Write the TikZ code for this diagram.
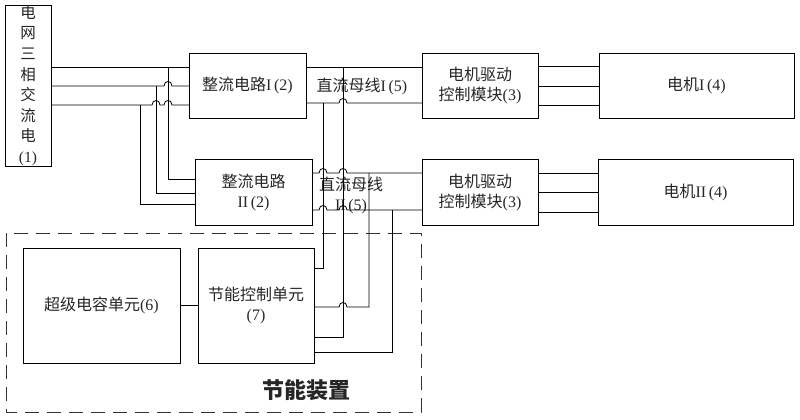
\documentclass[tikz,border=0pt]{standalone}
\usepackage{fontspec}
\setmainfont{Liberation Serif}
\newfontfamily\cjk{Noto Sans CJK SC}
\newcommand{\zh}[1]{{\cjk #1}}
% small bridge where a horizontal wire passes over a vertical one
\newcommand{\hop}[2]{-- ({#1-4},#2) .. controls ({#1-4},{#2-6}) and ({#1+4},{#2-6}) .. ({#1+4},#2)}
\tikzset{
  blk/.style={draw,line width=0.9pt,inner sep=0pt,align=center,text=black!85},
  lbl/.style={inner sep=0pt,align=center,text=black!85},
}

\begin{document}
\begin{tikzpicture}[x=1pt,y=-1pt,line width=0.8pt,font=\fontsize{16}{20}\selectfont]
			\useasboundingbox (0,0) rectangle (800,420);

			\node[blk,minimum width=46pt,minimum height=161pt,font=\fontsize{15.5}{20.6}\selectfont] (grid) at (28,85.5) {\zh{电}\\\zh{网}\\\zh{三}\\\zh{相}\\\zh{交}\\\zh{流}\\\zh{电}\\(1)};
			\node[blk,minimum width=117pt,minimum height=65pt] (rectI) at (247.5,85.5) {\zh{整流电路}I\,(2)};
			\node[blk,minimum width=117pt,minimum height=66pt] (rectII) at (253.5,192) {\zh{整流电路}\\II\,(2)};
			\node[blk,minimum width=116pt,minimum height=65pt] (drvI) at (480,85.5) {\zh{电机驱动}\\\zh{控制模块}(3)};
			\node[blk,minimum width=116pt,minimum height=66pt] (drvII) at (480,192) {\zh{电机驱动}\\\zh{控制模块}(3)};
			\node[blk,minimum width=195pt,minimum height=65pt] (motI) at (696.5,85.5) {\zh{电机}I\,(4)};
			\node[blk,minimum width=195pt,minimum height=66pt] (motII) at (695.5,192) {\zh{电机}II\,(4)};
			\node[blk,minimum width=157pt,minimum height=115pt] (cap) at (101.5,305.5) {\zh{超级电容单元}(6)};
			\node[blk,minimum width=116pt,minimum height=115pt] (ctrl) at (256,305.5) {\zh{节能控制单元}\\(7)};

			\node[lbl] (busI) at (362,86) {\zh{直流母线}I\,(5)};
			\node[lbl] (busII) at (351,195) {\zh{直流母线}\\II\,(5)};

			\draw[dash pattern=on 14pt off 8pt,line width=0.9pt,black!80] (6,233) rectangle (421,412);
			\node[lbl,font=\fontsize{22}{24}\selectfont\bfseries] (saver) at (306,390) {\zh{节能装置}};

			% three phase input
			\draw (51,67) -- (189,67);
			\draw (51,86) \hop{168}{86} -- (189,86);
			\draw (51,105) \hop{156}{105} \hop{168}{105} -- (189,105);
			\draw (168,67) -- (168,179) -- (195,179);
			\draw (156,86) -- (156,193) -- (195,193);
			\draw (140,105) -- (140,204) -- (195,204);

			% dc buses
			\draw (306,67) -- (422,67);
			\draw (306,103) \hop{343}{103} -- (422,103);
			\draw (312,173) \hop{323}{173} \hop{343}{173} -- (422,173);
			\draw (312,210) \hop{323}{210} \hop{343}{210} -- (422,210);

			% taps to the control unit
			\draw (323,103) -- (323,268) -- (314,268);
			\draw (343,67) -- (343,337) -- (314,337);
			\draw (314,307) \hop{343}{307} -- (369,307) -- (369,173);
			\draw (314,352) -- (392,352) -- (392,210);

			% motor outputs
			\foreach \y in {66,86,105} \draw (538,\y) -- (599,\y);
			\foreach \y in {173,192,212} \draw (538,\y) -- (598,\y);

			\draw (cap.east) -- (ctrl.west);
		\end{tikzpicture}
\end{document}
